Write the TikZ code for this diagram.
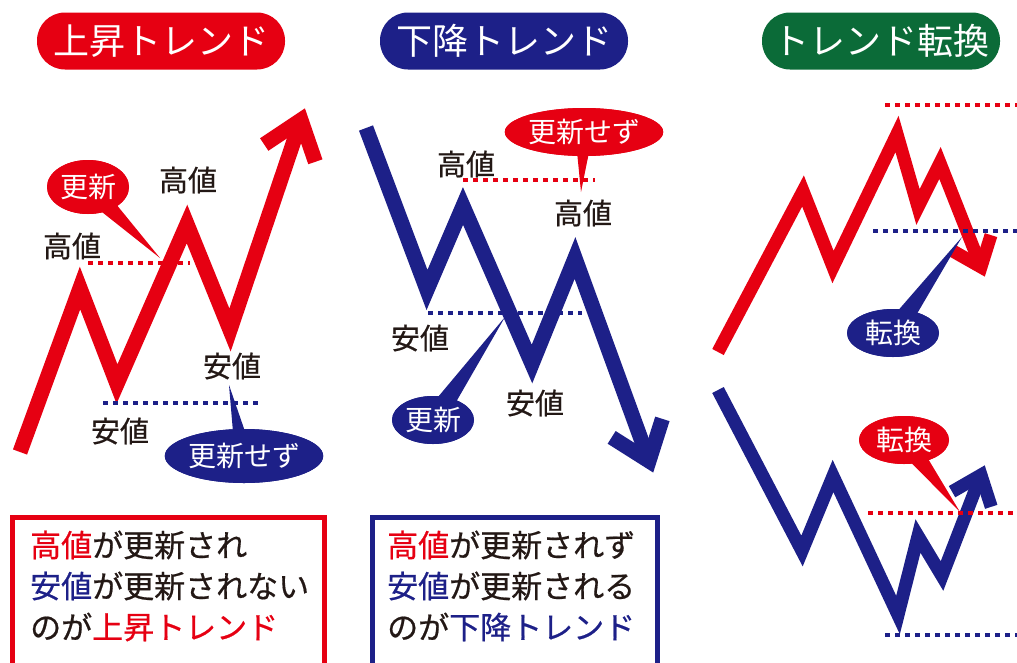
\documentclass[tikz,border=0pt]{standalone}
\usepackage{fontspec}
\setmainfont{Noto Sans CJK JP}
\newfontfamily\medfont{Noto Sans CJK JP}[FakeBold=0.6]
\usetikzlibrary{shapes.geometric,calc}
\definecolor{upred}{HTML}{E60012}
\definecolor{downblue}{HTML}{1D2088}
\definecolor{turngreen}{HTML}{0B6B38}
\definecolor{ink}{HTML}{231815}

\begin{document}
\begin{tikzpicture}[x=1pt,y=-1pt,
  title/.style={rounded corners=28pt, minimum height=57pt, inner sep=0pt, text=white, font=\fontsize{36}{36}\selectfont},
  lbl/.style={inner sep=0pt, text=ink, font=\medfont\fontsize{29}{29}\selectfont},
  bubble/.style={ellipse, inner sep=0pt, text=white, font=\fontsize{28}{28}\selectfont},
  trend/.style={line width=15pt, line join=miter},
  thin trend/.style={line width=13pt, line join=miter},
  level/.style={line width=4pt, dash pattern=on 5pt off 5pt},
  boxtxt/.style={anchor=west, inner sep=0pt, text=ink, font=\medfont\fontsize{31}{31}\selectfont}]
\useasboundingbox (0,0) rectangle (1017,662);

\node[title, fill=upred, minimum width=248pt] (t1) at (161,41) {上昇トレンド};
\node[title, fill=downblue, minimum width=248pt] (t2) at (504,41) {下降トレンド};
\node[title, fill=turngreen, minimum width=238pt] (t3) at (881,41) {トレンド転換};

\coordinate (u0) at (20,452);
\coordinate (u1) at (80,288);
\coordinate (u2) at (117,384);
\coordinate (u3) at (187,224);
\coordinate (u4) at (230,330);
\coordinate (u5) at (301,120);
\coordinate (ub) at ($(u5)!35pt!(u4)$);
\draw[trend, upred] (u0) -- (u1) -- (u2) -- (u3) -- (u4) -- (u5);
\draw[trend, upred] ($(ub)!27pt!90:(u5)$) -- (u5) -- ($(ub)!27pt!-90:(u5)$);

\coordinate (d0) at (366,128);
\coordinate (d1) at (427,290);
\coordinate (d2) at (463,206);
\coordinate (d3) at (532,364);
\coordinate (d4) at (575,258);
\coordinate (d5) at (649,461);
\coordinate (db) at ($(d5)!35pt!(d4)$);
\draw[trend, downblue] (d0) -- (d1) -- (d2) -- (d3) -- (d4) -- (d5);
\draw[trend, downblue] ($(db)!27pt!90:(d5)$) -- (d5) -- ($(db)!27pt!-90:(d5)$);

\coordinate (r0) at (718,352);
\coordinate (r1) at (803,191);
\coordinate (r2) at (833,267);
\coordinate (r3) at (897,134);
\coordinate (r4) at (918,207);
\coordinate (r5) at (940,163);
\coordinate (r6) at (981,267);
\coordinate (rb) at ($(r6)!26pt!(r5)$);
\draw[thin trend, upred] (r0) -- (r1) -- (r2) -- (r3) -- (r4) -- (r5) -- (r6);
\draw[thin trend, upred] ($(rb)!21pt!90:(r6)$) -- (r6) -- ($(rb)!21pt!-90:(r6)$);

\coordinate (s0) at (718,390);
\coordinate (s1) at (802,551);
\coordinate (s2) at (833,476);
\coordinate (s3) at (898,615);
\coordinate (s4) at (918,536);
\coordinate (s5) at (942,576);
\coordinate (s6) at (981,475);
\coordinate (sb) at ($(s6)!26pt!(s5)$);
\draw[thin trend, downblue] (s0) -- (s1) -- (s2) -- (s3) -- (s4) -- (s5) -- (s6);
\draw[thin trend, downblue] ($(sb)!21pt!90:(s6)$) -- (s6) -- ($(sb)!21pt!-90:(s6)$);

\draw[level, upred] (88,263) -- (190,263);
\draw[level, downblue] (103,403) -- (258,403);
\draw[level, upred] (463,180) -- (595,180);
\draw[level, downblue] (428,313) -- (582,313);
\draw[level, upred] (885,105) -- (1017,105);
\draw[level, downblue] (873,231) -- (1017,231);
\draw[level, upred] (868,513) -- (1017,513);
\draw[level, downblue] (885,635) -- (1017,635);

\node[lbl] (uh1) at (72,246) {高値};
\node[lbl] (uh2) at (188,180) {高値};
\node[lbl] (ul1) at (120,431) {安値};
\node[lbl] (ul2) at (232,366) {安値};
\node[lbl] (dh1) at (466,164) {高値};
\node[lbl] (dh2) at (583,213) {高値};
\node[lbl] (dl1) at (420,338) {安値};
\node[lbl] (dl2) at (535,403) {安値};

\coordinate (ut1) at (160,258);
\coordinate (ut2) at (229,385);
\coordinate (dt1) at (581,192);
\coordinate (dt2) at (505,317);
\coordinate (rt1) at (962,237);
\coordinate (st1) at (960,512);
\node[bubble, fill=upred, minimum width=82pt, minimum height=54pt] (ub1) at (88,187) {更新};
\node[bubble, fill=downblue, minimum width=144pt, minimum height=54pt] (ub2) at (244,456) {更新せず};
\node[bubble, fill=upred, minimum width=144pt, minimum height=48pt] (db1) at (584,132) {更新せず};
\node[bubble, fill=downblue, minimum width=82pt, minimum height=48pt] (db2) at (433,420) {更新};
\node[bubble, fill=downblue, minimum width=92pt, minimum height=48pt] (rb1) at (893,333) {転換};
\node[bubble, fill=upred, minimum width=90pt, minimum height=48pt] (sb1) at (904,440) {転換};
\fill[upred] ($(ub1.center)!11pt!90:(ut1)$) -- (ut1) -- ($(ub1.center)!11pt!-90:(ut1)$) -- cycle;
\fill[downblue] ($(ub2.center)!9pt!90:(ut2)$) -- (ut2) -- ($(ub2.center)!9pt!-90:(ut2)$) -- cycle;
\fill[upred] ($(db1.center)!9pt!90:(dt1)$) -- (dt1) -- ($(db1.center)!9pt!-90:(dt1)$) -- cycle;
\fill[downblue] ($(db2.center)!11pt!90:(dt2)$) -- (dt2) -- ($(db2.center)!11pt!-90:(dt2)$) -- cycle;
\fill[downblue] ($(rb1.center)!11pt!90:(rt1)$) -- (rt1) -- ($(rb1.center)!11pt!-90:(rt1)$) -- cycle;
\fill[upred] ($(sb1.center)!11pt!90:(st1)$) -- (st1) -- ($(sb1.center)!11pt!-90:(st1)$) -- cycle;
\node[bubble, fill=upred, minimum width=82pt, minimum height=54pt] at (ub1) {更新};
\node[bubble, fill=downblue, minimum width=144pt, minimum height=54pt] at (ub2) {更新せず};
\node[bubble, fill=upred, minimum width=144pt, minimum height=48pt] at (db1) {更新せず};
\node[bubble, fill=downblue, minimum width=82pt, minimum height=48pt] at (db2) {更新};
\node[bubble, fill=downblue, minimum width=92pt, minimum height=48pt] at (rb1) {転換};
\node[bubble, fill=upred, minimum width=90pt, minimum height=48pt] at (sb1) {転換};

\draw[upred, line width=5pt] (12.5,517.5) rectangle (324.5,670);
\draw[downblue, line width=5pt] (372,517.5) rectangle (657,670);
\node[boxtxt] (ua) at (30,545) {{\color{upred}高値}が更新され};
\node[boxtxt] (ub) at (30,586) {{\color{downblue}安値}が更新されない};
\node[boxtxt] (uc) at (30,627) {のが{\color{upred}上昇トレンド}};
\node[boxtxt] (da) at (387,545) {{\color{upred}高値}が更新されず};
\node[boxtxt] (db) at (387,586) {{\color{downblue}安値}が更新される};
\node[boxtxt] (dc) at (387,627) {のが{\color{downblue}下降トレンド}};
\end{tikzpicture}
\end{document}
